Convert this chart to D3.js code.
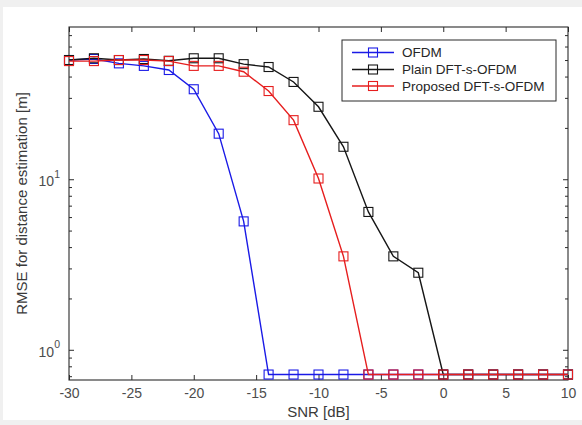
<!DOCTYPE html>
<html>
<head>
<meta charset="utf-8">
<script src="https://cdn.jsdelivr.net/npm/d3@7/dist/d3.min.js"></script>
<style>
  html, body { margin: 0; padding: 0; background: #f0f0f0; }
  svg { display: block; }
  text { font-family: "Liberation Sans", Arial, Helvetica, sans-serif; }
</style>
</head>
<body>
<script>
// SNR sweep in dB
const snr = [-30, -28, -26, -24, -22, -20, -18, -16, -14, -12, -10,
             -8, -6, -4, -2, 0, 2, 4, 6, 8, 10];

// RMSE of distance estimation [m] per scheme
const ofdm = [50.0, 50.7, 47.8, 46.2, 43.7, 33.7, 18.5, 5.66, 0.716, 0.716, 0.716,
              0.716, 0.716, 0.716, 0.716, 0.716, 0.716, 0.716, 0.716, 0.716, 0.716];
const plainDft = [50.0, 51.2, 50.0, 50.7, 49.5, 51.2, 51.2, 47.3, 45.5, 37.2, 26.6,
                  15.5, 6.43, 3.53, 2.83, 0.716, 0.716, 0.716, 0.716, 0.716, 0.716];
const proposedDft = [49.3, 49.3, 50.0, 50.0, 49.3, 46.2, 46.2, 42.7, 32.9, 22.2, 10.1,
                     3.53, 0.716, 0.716, 0.716, 0.716, 0.716, 0.716, 0.716, 0.716, 0.716];

const seriesNames = ["OFDM", "Plain DFT-s-OFDM", "Proposed DFT-s-OFDM"];
const seriesColors = ["#1a1ae6", "#161616", "#e61e1e"];

// Axis ticks
const xTicks = [-30, -25, -20, -15, -10, -5, 0, 5, 10];
const yMajorTicks = [1, 10];
const yMinorTicks = [0.7, 0.8, 0.9, 2, 3, 4, 5, 6, 7, 8, 9, 20, 30, 40, 50, 60, 70];
const xDomain = [-30, 10];
const yDomain = [0.665, 78.1];

const W = 582, H = 425;
const plot = { left: 69, right: 568, top: 27, bottom: 380 };

const svg = d3.select("body").append("svg")
  .attr("width", W).attr("height", H);

// white figure panel
svg.append("rect").attr("x", 3).attr("y", 7)
  .attr("width", W - 3).attr("height", 413).attr("fill", "#ffffff");

const x = d3.scaleLinear().domain(xDomain).range([plot.left, plot.right]);
const y = d3.scaleLog().domain(yDomain).range([plot.bottom, plot.top]);

const axisColor = "#2b2b2b";
const labelColor = "#4d4d4d";

// bottom axis with inward ticks (plain hyphen for negatives)
const gx = svg.append("g").attr("transform", `translate(0,${plot.bottom})`)
  .call(d3.axisBottom(x).tickValues(xTicks).tickSizeInner(-5).tickSizeOuter(0)
    .tickPadding(8).tickFormat(d => String(d)));
// top axis ticks (no labels)
const gxTop = svg.append("g").attr("transform", `translate(0,${plot.top})`)
  .call(d3.axisTop(x).tickValues(xTicks).tickSizeInner(-5).tickSizeOuter(0).tickFormat(""));

// left axis: major + minor ticks
const gy = svg.append("g").attr("transform", `translate(${plot.left},0)`)
  .call(d3.axisLeft(y).tickValues(yMajorTicks).tickSizeInner(-5).tickSizeOuter(0)
    .tickPadding(9).tickFormat(""));
const gyMinor = svg.append("g").attr("transform", `translate(${plot.left},0)`)
  .call(d3.axisLeft(y).tickValues(yMinorTicks).tickSizeInner(-3).tickSizeOuter(0).tickFormat(""));
const gyR = svg.append("g").attr("transform", `translate(${plot.right},0)`)
  .call(d3.axisRight(y).tickValues(yMajorTicks).tickSizeInner(-5).tickSizeOuter(0).tickFormat(""));
const gyRMinor = svg.append("g").attr("transform", `translate(${plot.right},0)`)
  .call(d3.axisRight(y).tickValues(yMinorTicks).tickSizeInner(-3).tickSizeOuter(0).tickFormat(""));

[gx, gxTop, gy, gyMinor, gyR, gyRMinor].forEach(g => {
  g.select(".domain").remove();
  g.selectAll(".tick line").attr("stroke", axisColor).attr("stroke-width", 1);
});

gx.selectAll(".tick text")
  .attr("font-size", 14).attr("fill", labelColor)
  .attr("font-family", "Liberation Sans, Arial, sans-serif");

// power-of-ten labels on the log axis
gy.selectAll(".tick").each(function(d) {
  const t = d3.select(this).select("text")
    .attr("font-family", "Liberation Sans, Arial, sans-serif")
    .attr("fill", labelColor).attr("text-anchor", "end")
    .attr("x", -9).attr("dy", "0.45em").attr("font-size", 14);
  t.text(null);
  t.append("tspan").text("10");
  t.append("tspan").attr("font-size", 10.5).attr("dy", "-0.8em")
    .text(Math.round(Math.log10(d)));
});

// axes box
svg.append("rect")
  .attr("x", plot.left).attr("y", plot.top)
  .attr("width", plot.right - plot.left).attr("height", plot.bottom - plot.top)
  .attr("fill", "none").attr("stroke", axisColor).attr("stroke-width", 1.1);

// axis titles
svg.append("text")
  .attr("x", (plot.left + plot.right) / 2).attr("y", 417)
  .attr("text-anchor", "middle").attr("font-size", 15).attr("fill", "#3a3a3a")
  .text("SNR [dB]");
svg.append("text")
  .attr("transform", `translate(27,${(plot.top + plot.bottom) / 2}) rotate(-90)`)
  .attr("text-anchor", "middle").attr("font-size", 15).attr("fill", "#3a3a3a")
  .text("RMSE for distance estimation [m]");

// curves
const allSeries = [ofdm, plainDft, proposedDft];
const line = d3.line().x((d, i) => x(snr[i])).y(d => y(d));
const ms = 9;

allSeries.forEach((vals, k) => {
  const g = svg.append("g");
  g.append("path").datum(vals)
    .attr("d", line).attr("fill", "none")
    .attr("stroke", seriesColors[k]).attr("stroke-width", 1.4);
  g.selectAll("rect").data(vals).join("rect")
    .attr("x", (d, i) => x(snr[i]) - ms / 2)
    .attr("y", d => y(d) - ms / 2)
    .attr("width", ms).attr("height", ms)
    .attr("fill", "none").attr("stroke", seriesColors[k]).attr("stroke-width", 1.1);
});

// legend
const lg = svg.append("g");
lg.append("rect").attr("x", 342).attr("y", 40).attr("width", 214).attr("height", 61)
  .attr("fill", "#ffffff").attr("stroke", axisColor).attr("stroke-width", 1);
const rowY = [52.5, 69.5, 86];
seriesNames.forEach((name, k) => {
  lg.append("line").attr("x1", 352).attr("x2", 394)
    .attr("y1", rowY[k]).attr("y2", rowY[k])
    .attr("stroke", seriesColors[k]).attr("stroke-width", 1.4);
  lg.append("rect").attr("x", 373 - ms / 2).attr("y", rowY[k] - ms / 2)
    .attr("width", ms).attr("height", ms)
    .attr("fill", "none").attr("stroke", seriesColors[k]).attr("stroke-width", 1.1);
  lg.append("text").attr("x", 402).attr("y", rowY[k]).attr("dy", "0.36em")
    .attr("font-size", 13.5).attr("fill", "#262626").text(name);
});
</script>
</body>
</html>
